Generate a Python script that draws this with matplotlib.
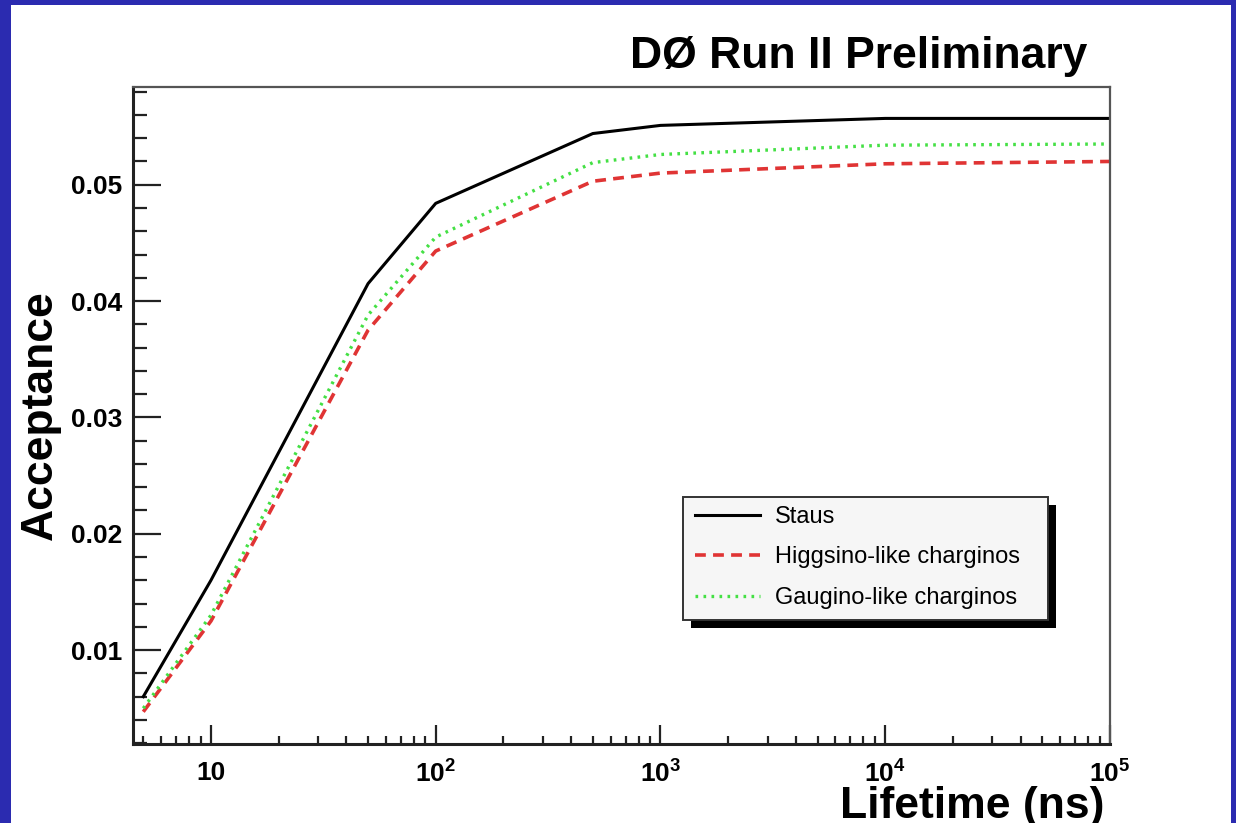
import math
import matplotlib.pyplot as plt
from matplotlib.patches import Rectangle
from matplotlib.ticker import FixedLocator, MultipleLocator, FuncFormatter

plt.rcParams['font.family'] = ['Liberation Sans', 'DejaVu Sans']
plt.rcParams['mathtext.fontset'] = 'custom'
plt.rcParams['mathtext.rm'] = 'Liberation Sans:bold'
plt.rcParams['mathtext.bf'] = 'Liberation Sans:bold'

# data
lifetime = [5, 10, 50, 100, 500, 1000, 10000, 100000]
staus = [0.0060, 0.0160, 0.0415, 0.0484, 0.0544, 0.0551, 0.0557, 0.0557]
higgsino = [0.0047, 0.0125, 0.0375, 0.0443, 0.0503, 0.0510, 0.0518, 0.0520]
gaugino = [0.0050, 0.0130, 0.0388, 0.0455, 0.0519, 0.0526, 0.0534, 0.0535]
labels = ["Staus", "Higgsino-like charginos", "Gaugino-like charginos"]
x_major = [10, 100, 1000, 10000, 100000]

fig = plt.figure(figsize=(12.36, 8.23), dpi=100)
fig.patch.set_facecolor('#2b2bb0')
fig.patches.append(Rectangle((11 / 1236, 0), 1220 / 1236, 818 / 823,
                             transform=fig.transFigure, facecolor='white',
                             edgecolor='none', zorder=-10))

ax = fig.add_axes([133 / 1236, 79 / 823, 977 / 1236, 657 / 823])
ax.patch.set_alpha(0)
ax.plot(lifetime, staus, color='black', lw=2.2, label=labels[0])
ax.plot(lifetime, higgsino, color='#e03434', lw=2.6, ls=(0, (3, 2)), label=labels[1])
ax.plot(lifetime, gaugino, color='#44e044', lw=2.4, ls=(0, (0.8, 1.6)), label=labels[2])

ax.set_xscale('log')
ax.set_xlim(4.5, 1e5)
ax.set_ylim(0.00193, 0.0584)

ax.xaxis.set_major_locator(FixedLocator(x_major))
ax.xaxis.set_minor_locator(FixedLocator(
    [m * 10 ** e for e in range(0, 5) for m in range(2, 10) if 4.5 <= m * 10 ** e < 1e5]))


def xfmt(v, pos):
    if v == 10:
        return '10'
    return r'$\mathbf{10^{%d}}$' % round(math.log10(v))


ax.xaxis.set_major_formatter(FuncFormatter(xfmt))
ax.yaxis.set_major_locator(MultipleLocator(0.01))
ax.yaxis.set_minor_locator(MultipleLocator(0.002))
ax.yaxis.set_major_formatter(FuncFormatter(lambda v, p: '%.2f' % v))

ax.tick_params(axis='both', which='both', direction='in', top=False, right=False,
               colors='#222222', labelcolor='black', width=1.6)
ax.tick_params(axis='y', which='major', length=20, labelsize=19, pad=8)
ax.tick_params(axis='y', which='minor', length=10)
ax.tick_params(axis='x', which='major', length=14, labelsize=19, pad=12)
ax.tick_params(axis='x', which='minor', length=6)
for t in ax.get_xticklabels() + ax.get_yticklabels():
    t.set_fontweight('bold')

for s in ['left', 'bottom']:
    ax.spines[s].set_linewidth(2.2)
    ax.spines[s].set_color('#222222')
for s in ['top', 'right']:
    ax.spines[s].set_linewidth(1.6)
    ax.spines[s].set_color('#555555')

# legend box with hard black shadow
bx0, by0 = 550 / 977, 124 / 657
bw, bh = 365 / 977, 123 / 657
ax.add_patch(Rectangle((bx0 + 8 / 977, by0 - 8 / 657), bw, bh, transform=ax.transAxes,
                       facecolor='black', edgecolor='none', zorder=5))
ax.add_patch(Rectangle((bx0, by0), bw, bh, transform=ax.transAxes,
                       facecolor='#f6f6f6', edgecolor='#333333', lw=1.4, zorder=6))
leg = ax.legend(loc='upper left', bbox_to_anchor=(bx0 + 12 / 977, by0 + bh - 9 / 657),
                frameon=False, fontsize=17, handlelength=2.75, labelspacing=0.78,
                handletextpad=0.62, borderpad=0, borderaxespad=0)
leg.set_zorder(7)

fig.text(1087 / 1236, 1 - 68 / 823, 'DØ Run II Preliminary', ha='right', va='baseline',
         fontsize=32, fontweight='bold')
fig.text(1105 / 1236, 5 / 823, 'Lifetime (ns)', ha='right', va='baseline',
         fontsize=32, fontweight='bold')
fig.text(40 / 1236, 1 - 415 / 823, 'Acceptance', rotation=90, ha='center', va='center',
         fontsize=32, fontweight='bold')

fig.savefig('out.png', dpi=100, facecolor=fig.get_facecolor())
